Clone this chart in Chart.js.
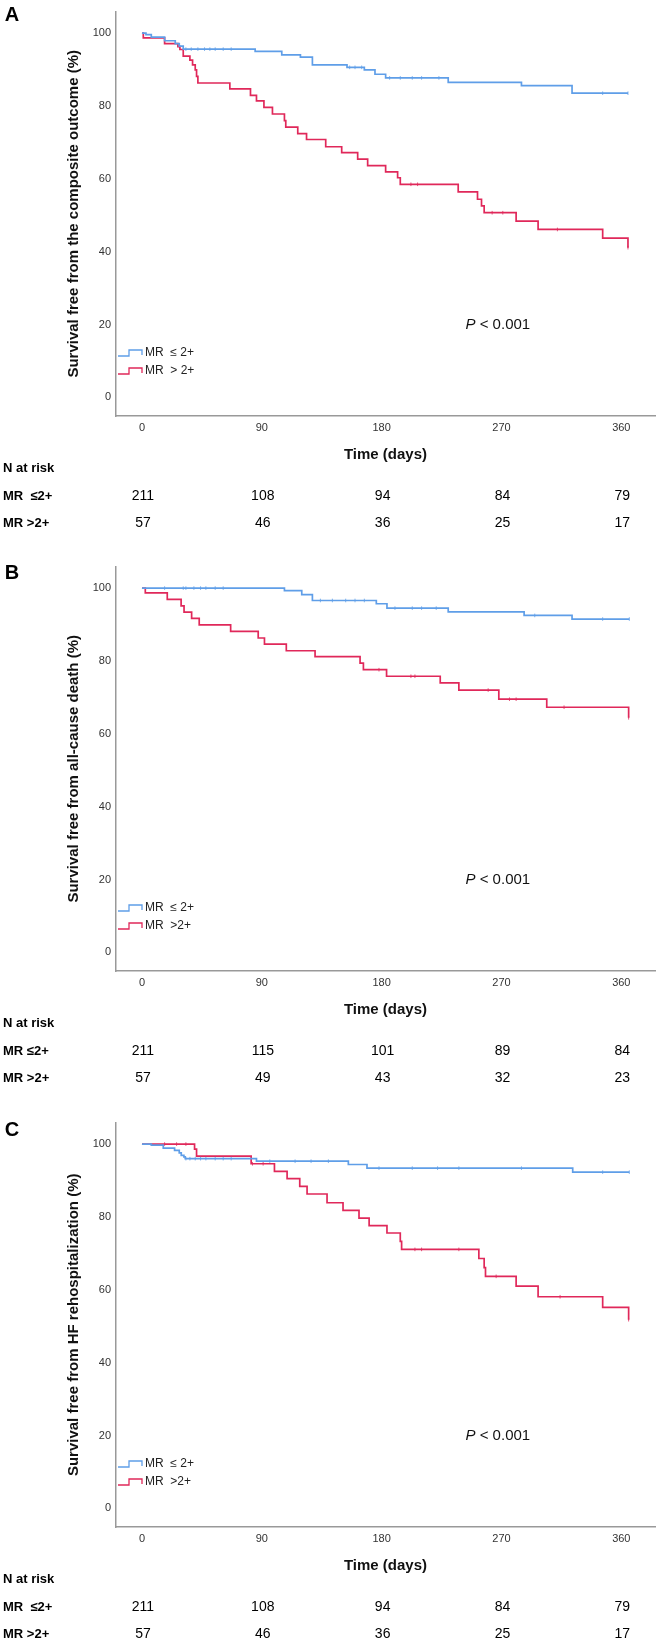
<!DOCTYPE html>
<html>
<head>
<meta charset="utf-8">
<script src="https://cdn.jsdelivr.net/npm/chart.js@4.4.0/dist/chart.umd.min.js"></script>
<style>
  html, body { margin: 0; padding: 0; background: #fff; }
  body { width: 661px; height: 1642px; overflow: hidden; }
  canvas { display: block; }
</style>
</head>
<body>
<canvas id="chartA" width="661" height="555"></canvas>
<canvas id="chartB" width="661" height="556"></canvas>
<canvas id="chartC" width="661" height="555"></canvas>
<script>
// shared axes
var xTicks = [0, 90, 180, 270, 360];
var yTicks = [0, 20, 40, 60, 80, 100];
var riskTimes = [0, 90, 180, 270, 360];

// Panel A - composite outcome
var aLowTimes = [0, 3, 7, 17, 25, 28, 31, 85, 105, 119, 128, 154, 167, 175, 183, 230, 285, 323, 365];
var aLowSurv  = [100, 99.6, 98.9, 97.9, 97.1, 96.4, 95.6, 95.0, 94.0, 93.4, 91.3, 90.6, 89.9, 88.7, 87.7, 86.5, 85.6, 83.5, 83.5];
var aLowCens  = [33, 37, 42, 47, 51, 55, 61, 67, 156, 160, 165, 186, 194, 203, 210, 223, 346, 365];
var aHighTimes = [0, 1, 17, 27, 28.5, 31, 36, 38, 40, 41, 42, 66, 81.5, 86, 91.6, 98, 107, 108, 117, 123.6, 138, 150, 162, 169.5, 183, 192, 194, 237.5, 252, 255, 257, 281, 297.5, 346, 365];
var aHighSurv  = [100, 98.7, 97.1, 96.3, 95.5, 93.7, 92.6, 91.3, 89.9, 88.1, 86.3, 84.7, 82.9, 81.4, 79.6, 77.8, 76.0, 74.2, 72.4, 70.8, 68.8, 67.2, 65.4, 63.6, 61.9, 60.3, 58.5, 56.4, 54.4, 52.6, 50.7, 48.4, 46.1, 43.7, 41.1];
var aHighCens  = [202, 207, 263, 271, 312, 365];
var aRiskLow  = [211, 108, 94, 84, 79];
var aRiskHigh = [57, 46, 36, 25, 17];

// Panel B - all-cause death
var bLowTimes = [0, 107, 120, 128, 176, 184, 230, 287, 323, 366];
var bLowSurv  = [100, 99.3, 98.2, 96.6, 95.7, 94.5, 93.5, 92.5, 91.5, 91.5];
var bLowCens  = [17, 31, 33, 39, 44, 48, 55, 61, 134, 143, 153, 160, 167, 190, 203, 210, 221, 295, 346, 366];
var bHighTimes = [0, 2.5, 19, 29.4, 31.6, 37.3, 43, 66.6, 87.3, 92, 108.4, 130, 163.8, 166.3, 183.7, 224, 238, 268, 304, 365.5];
var bHighSurv  = [100, 98.7, 96.9, 95.1, 93.4, 91.7, 89.9, 88.1, 86.3, 84.6, 82.8, 81.2, 79.4, 77.6, 75.8, 74.0, 72.0, 69.5, 67.3, 64.4];
var bHighCens  = [178, 202, 205, 260, 276, 281, 317, 365.5];
var bRiskLow  = [211, 115, 101, 89, 84];
var bRiskHigh = [57, 49, 43, 32, 23];

// Panel C - HF rehospitalization
var cLowTimes = [0, 7, 16, 24.5, 28, 29.5, 31.5, 32.5, 86, 155, 169, 323.5, 366];
var cLowSurv  = [100, 99.7, 98.9, 98.3, 97.6, 96.9, 96.5, 96.0, 95.3, 94.4, 93.4, 92.3, 92.3];
var cLowCens  = [33, 36, 40, 44, 48, 55, 61, 67, 96, 115, 127, 140, 178, 203, 222, 238, 285, 346, 366];
var cHighTimes = [0, 39.5, 41, 82, 99.5, 109, 118.5, 124, 139, 151, 163, 170.6, 184, 194, 195, 253, 257, 258, 281, 297.5, 346, 365.5];
var cHighSurv  = [100, 98.6, 96.7, 94.6, 92.5, 90.5, 88.4, 86.3, 83.9, 81.8, 79.7, 77.6, 75.6, 73.3, 71.1, 68.6, 66.1, 63.7, 61.0, 58.1, 55.2, 51.8];
var cHighCens  = [17, 26, 33, 83, 91, 205, 210, 238, 266, 314, 365.5];
var cRiskLow  = [211, 108, 94, 84, 79];
var cRiskHigh = [57, 46, 36, 25, 17];

var BLUE = '#5f9ee8';
var RED = '#e0285a';
var FONT = '"Liberation Sans", Arial, sans-serif';

Chart.defaults.font.family = FONT;

// KM curve points: value after event at each time
function steps(times, surv) {
    return times.map(function (t, i) { return { x: t, y: surv[i] }; });
}

// censor marks sit on the curve at their time
function censorPts(cens, times, surv) {
    return cens.map(function (c) {
        var v = surv[0];
        for (var i = 0; i < times.length; i++) {
            if (times[i] <= c) v = surv[i];
        }
        return { x: c, y: v };
    });
}

// titles, legend, p value and the at-risk table
var kmExtras = {
    id: 'kmExtras',
    afterDraw: function (chart, args, o) {
        var ctx = chart.ctx;
        var ca = chart.chartArea;
        var xs = chart.scales.x;
        var ys = chart.scales.y;
        ctx.save();

        ctx.fillStyle = '#000';
        ctx.font = 'bold 20px ' + FONT;
        ctx.textAlign = 'center';
        ctx.textBaseline = 'middle';
        ctx.fillText(o.letter, 12, o.letterY);

        // y title
        ctx.save();
        ctx.translate(74, (ca.top + ca.bottom) / 2);
        ctx.rotate(-Math.PI / 2);
        ctx.font = 'bold 15px ' + FONT;
        ctx.fillStyle = '#111';
        ctx.fillText(o.yTitle, 0, 0);
        ctx.restore();

        // x title
        ctx.font = 'bold 15px ' + FONT;
        ctx.fillStyle = '#111';
        ctx.fillText('Time (days)', (ca.left + ca.right) / 2, ca.bottom + 39);

        // P value
        var px = xs.getPixelForValue(243);
        var py = ys.getPixelForValue(20);
        ctx.textAlign = 'left';
        ctx.font = 'italic 15px ' + FONT;
        ctx.fillText('P', px, py);
        var pw = ctx.measureText('P').width;
        ctx.font = '15px ' + FONT;
        ctx.fillText(' < 0.001', px + pw, py);

        // legend with little step symbols
        var colors = [BLUE, RED];
        o.legend.forEach(function (label, i) {
            var y = ca.bottom - 63 + i * 18;
            ctx.strokeStyle = colors[i];
            ctx.lineWidth = 1.3;
            ctx.beginPath();
            ctx.moveTo(118, y + 3);
            ctx.lineTo(129, y + 3);
            ctx.lineTo(129, y - 3);
            ctx.lineTo(142, y - 3);
            ctx.lineTo(142, y + 2);
            ctx.stroke();
            ctx.fillStyle = '#222';
            ctx.font = '12px ' + FONT;
            ctx.fillText(label, 145, y);
        });

        // N at risk
        ctx.fillStyle = '#000';
        ctx.font = 'bold 13px ' + FONT;
        ctx.fillText('N at risk', 3, ca.bottom + 52);
        o.risk.forEach(function (row, r) {
            var y = ca.bottom + 80 + r * 27;
            ctx.textAlign = 'left';
            ctx.font = 'bold 13px ' + FONT;
            ctx.fillText(row.label, 3, y);
            ctx.textAlign = 'center';
            ctx.font = '14px ' + FONT;
            row.values.forEach(function (v, j) {
                ctx.fillText(String(v), xs.getPixelForValue(riskTimes[j]) + 1, y);
            });
        });
        ctx.restore();
    }
};

function makePanel(id, p) {
    var canvas = document.getElementById(id);
    var xAxisH = 30;
    return new Chart(canvas, {
        type: 'line',
        data: {
            datasets: [
                { data: steps(p.lowTimes, p.lowSurv), borderColor: BLUE, borderWidth: 1.7, stepped: true, pointRadius: 0, fill: false },
                { data: censorPts(p.lowCens, p.lowTimes, p.lowSurv), showLine: false, pointStyle: 'line', rotation: 90, pointRadius: 1.8, pointBorderWidth: 0.8, pointBorderColor: BLUE, borderColor: BLUE },
                { data: steps(p.highTimes, p.highSurv), borderColor: RED, borderWidth: 1.7, stepped: true, pointRadius: 0, fill: false },
                { data: censorPts(p.highCens, p.highTimes, p.highSurv), showLine: false, pointStyle: 'line', rotation: 90, pointRadius: 1.8, pointBorderWidth: 0.8, pointBorderColor: RED, borderColor: RED }
            ]
        },
        options: {
            responsive: false,
            animation: false,
            layout: { padding: { left: 0, top: 4, right: 6, bottom: canvas.height - 416 - xAxisH } },
            scales: {
                x: {
                    type: 'linear', min: -19.5, max: 385.3,
                    afterBuildTicks: function (s) { s.ticks = xTicks.map(function (v) { return { value: v }; }); },
                    afterFit: function (s) { s.height = xAxisH; },
                    grid: { display: false, drawTicks: false },
                    border: { display: true, color: '#999', width: 1.5 },
                    ticks: { padding: 5, color: '#333', font: { size: 11 } }
                },
                y: {
                    type: 'linear', min: -5.1, max: 105.9,
                    afterBuildTicks: function (s) { s.ticks = yTicks.map(function (v) { return { value: v }; }); },
                    afterFit: function (s) { s.width = 116; },
                    grid: { display: false, drawTicks: false },
                    border: { display: true, color: '#999', width: 1.5 },
                    ticks: { padding: 5, color: '#333', font: { size: 11 } }
                }
            },
            plugins: {
                legend: { display: false },
                tooltip: { enabled: false },
                kmExtras: {
                    letter: p.letter, letterY: p.letterY, yTitle: p.yTitle, legend: p.legend,
                    risk: [
                        { label: p.riskLabels[0], values: p.riskLow },
                        { label: p.riskLabels[1], values: p.riskHigh }
                    ]
                }
            }
        },
        plugins: [kmExtras]
    });
}

makePanel('chartA', {
    letter: 'A', letterY: 15,
    yTitle: 'Survival free from the composite outcome (%)',
    legend: ['MR  \u2264 2+', 'MR  > 2+'],
    riskLabels: ['MR  \u22642+', 'MR >2+'],
    lowTimes: aLowTimes, lowSurv: aLowSurv, lowCens: aLowCens,
    highTimes: aHighTimes, highSurv: aHighSurv, highCens: aHighCens,
    riskLow: aRiskLow, riskHigh: aRiskHigh
});

makePanel('chartB', {
    letter: 'B', letterY: 18,
    yTitle: 'Survival free from all-cause death (%)',
    legend: ['MR  \u2264 2+', 'MR  >2+'],
    riskLabels: ['MR \u22642+', 'MR >2+'],
    lowTimes: bLowTimes, lowSurv: bLowSurv, lowCens: bLowCens,
    highTimes: bHighTimes, highSurv: bHighSurv, highCens: bHighCens,
    riskLow: bRiskLow, riskHigh: bRiskHigh
});

makePanel('chartC', {
    letter: 'C', letterY: 19,
    yTitle: 'Survival free from HF rehospitalization (%)',
    legend: ['MR  \u2264 2+', 'MR  >2+'],
    riskLabels: ['MR  \u22642+', 'MR >2+'],
    lowTimes: cLowTimes, lowSurv: cLowSurv, lowCens: cLowCens,
    highTimes: cHighTimes, highSurv: cHighSurv, highCens: cHighCens,
    riskLow: cRiskLow, riskHigh: cRiskHigh
});
</script>
</body>
</html>
